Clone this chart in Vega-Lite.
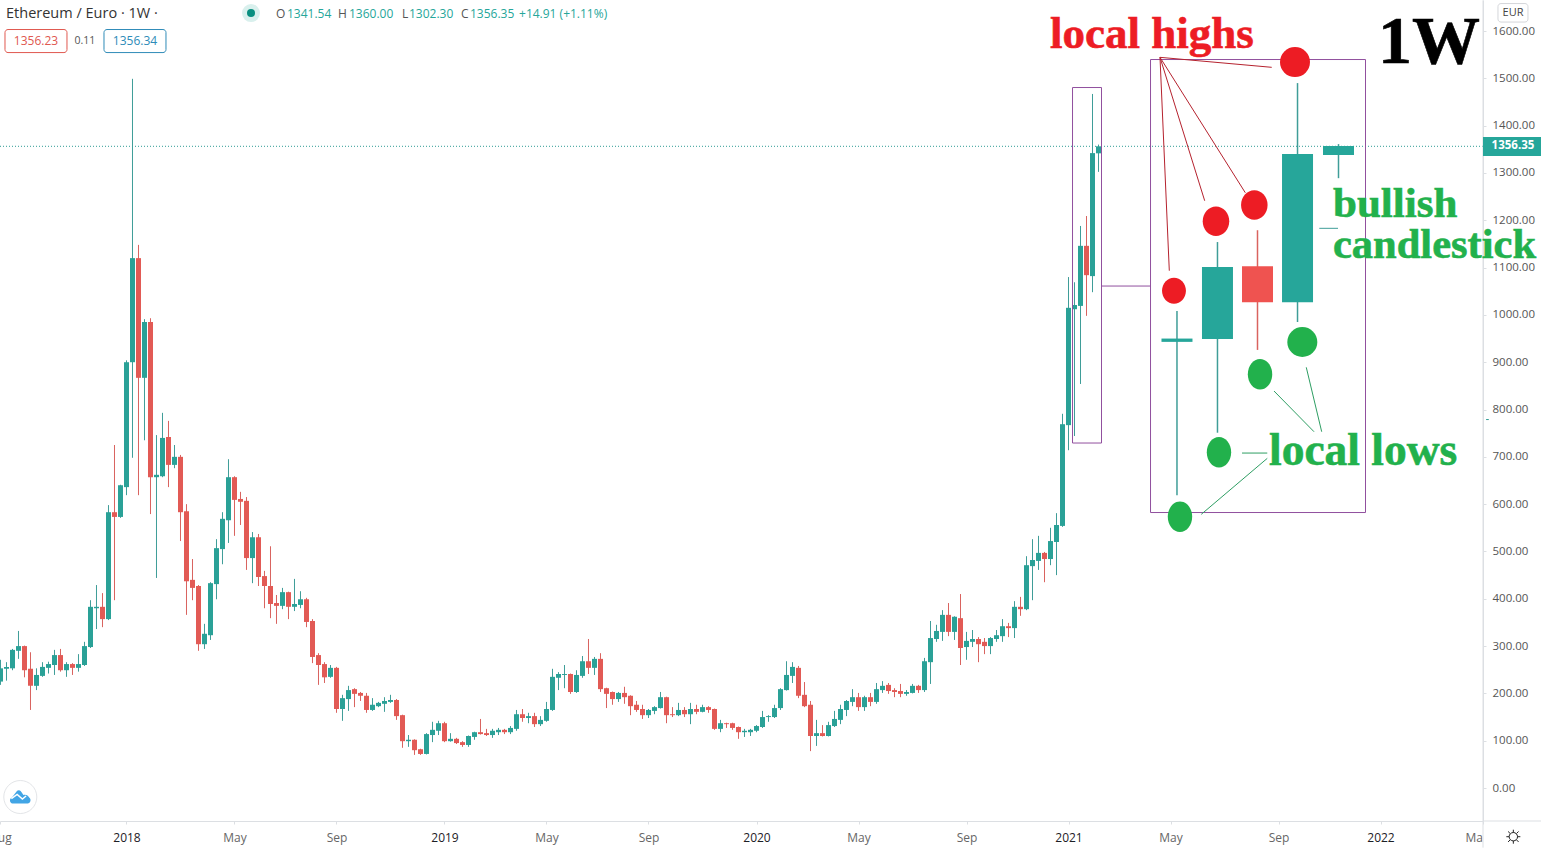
{"$schema":"https://vega.github.io/schema/vega-lite/v6.json","width":1483,"height":821,"autosize":{"type":"none"},"padding":{"left":0,"top":0,"right":58,"bottom":27},"background":"white","config":{"view":{"stroke":null},"font":"Open Sans"},
"datasets":{"candles":[
{"week":0,"o":225,"h":271,"l":218,"c":253},{"week":1,"o":252,"h":266,"l":227,"c":256},{"week":2,"o":253,"h":294,"l":249,"c":292},{"week":3,"o":290,"h":332,"l":273,"c":300},{"week":4,"o":300,"h":301,"l":234,"c":249},{"week":5,"o":252,"h":287,"l":165,"c":216},{"week":6,"o":216,"h":253,"l":207,"c":239},{"week":7,"o":237,"h":266,"l":235,"c":256},{"week":8,"o":254,"h":267,"l":242,"c":262},{"week":9,"o":260,"h":292,"l":239,"c":281},
{"week":10,"o":281,"h":294,"l":246,"c":249},{"week":11,"o":249,"h":266,"l":235,"c":262},{"week":12,"o":262,"h":264,"l":239,"c":254},{"week":13,"o":254,"h":283,"l":246,"c":262},{"week":14,"o":260,"h":309,"l":258,"c":300},{"week":15,"o":298,"h":397,"l":296,"c":383},{"week":16,"o":380,"h":429,"l":336,"c":383},{"week":17,"o":383,"h":412,"l":340,"c":357},{"week":18,"o":357,"h":598,"l":355,"c":583},{"week":19,"o":583,"h":725,"l":397,"c":573},
{"week":20,"o":573,"h":641,"l":571,"c":640},{"week":21,"o":636,"h":904,"l":619,"c":900},{"week":22,"o":900,"h":1499,"l":698,"c":1120},{"week":23,"o":1120,"h":1148,"l":619,"c":867},{"week":24,"o":867,"h":991,"l":735,"c":985},{"week":25,"o":985,"h":993,"l":579,"c":657},{"week":26,"o":657,"h":746,"l":444,"c":662},{"week":27,"o":659,"h":793,"l":657,"c":740},{"week":28,"o":742,"h":776,"l":636,"c":683},{"week":29,"o":683,"h":725,"l":676,"c":700},
{"week":30,"o":700,"h":704,"l":522,"c":583},{"week":31,"o":585,"h":600,"l":366,"c":437},{"week":32,"o":440,"h":484,"l":397,"c":423},{"week":33,"o":427,"h":429,"l":290,"c":304},{"week":34,"o":304,"h":347,"l":294,"c":326},{"week":35,"o":323,"h":435,"l":313,"c":433},{"week":36,"o":431,"h":526,"l":399,"c":507},{"week":37,"o":505,"h":583,"l":473,"c":569},{"week":38,"o":566,"h":695,"l":518,"c":657},{"week":39,"o":657,"h":659,"l":533,"c":609},
{"week":40,"o":611,"h":626,"l":556,"c":605},{"week":41,"o":607,"h":615,"l":461,"c":486},{"week":42,"o":486,"h":541,"l":433,"c":530},{"week":43,"o":530,"h":537,"l":427,"c":446},{"week":44,"o":448,"h":459,"l":380,"c":427},{"week":45,"o":427,"h":511,"l":359,"c":389},{"week":46,"o":391,"h":408,"l":347,"c":385},{"week":47,"o":385,"h":423,"l":378,"c":414},{"week":48,"o":414,"h":415,"l":357,"c":383},{"week":49,"o":383,"h":442,"l":374,"c":389},
{"week":50,"o":387,"h":416,"l":380,"c":399},{"week":51,"o":399,"h":402,"l":340,"c":351},{"week":52,"o":353,"h":357,"l":264,"c":277},{"week":53,"o":281,"h":285,"l":218,"c":260},{"week":54,"o":262,"h":266,"l":222,"c":234},{"week":55,"o":235,"h":260,"l":233,"c":254},{"week":56,"o":254,"h":256,"l":159,"c":167},{"week":57,"o":167,"h":197,"l":142,"c":190},{"week":58,"o":188,"h":216,"l":163,"c":207},{"week":59,"o":209,"h":211,"l":171,"c":199},
{"week":60,"o":201,"h":203,"l":184,"c":195},{"week":61,"o":195,"h":201,"l":159,"c":165},{"week":62,"o":165,"h":190,"l":163,"c":176},{"week":63,"o":173,"h":182,"l":171,"c":180},{"week":64,"o":178,"h":192,"l":161,"c":184},{"week":65,"o":182,"h":197,"l":180,"c":186},{"week":66,"o":186,"h":188,"l":144,"c":152},{"week":67,"o":154,"h":155,"l":85,"c":99},{"week":68,"o":99,"h":112,"l":87,"c":102},{"week":69,"o":102,"h":103,"l":70,"c":80},
{"week":70,"o":82,"h":83,"l":70,"c":72},{"week":71,"o":72,"h":116,"l":71,"c":114},{"week":72,"o":112,"h":140,"l":97,"c":123},{"week":73,"o":121,"h":142,"l":112,"c":137},{"week":74,"o":137,"h":140,"l":97,"c":99},{"week":75,"o":99,"h":116,"l":98,"c":104},{"week":76,"o":104,"h":106,"l":93,"c":95},{"week":77,"o":97,"h":99,"l":87,"c":91},{"week":78,"o":91,"h":111,"l":87,"c":110},{"week":79,"o":108,"h":119,"l":102,"c":118},
{"week":80,"o":118,"h":146,"l":113,"c":114},{"week":81,"o":116,"h":125,"l":110,"c":112},{"week":82,"o":112,"h":125,"l":106,"c":121},{"week":83,"o":118,"h":127,"l":112,"c":123},{"week":84,"o":123,"h":125,"l":114,"c":118},{"week":85,"o":118,"h":131,"l":114,"c":127},{"week":86,"o":125,"h":165,"l":121,"c":156},{"week":87,"o":156,"h":167,"l":140,"c":148},{"week":88,"o":148,"h":159,"l":137,"c":152},{"week":89,"o":152,"h":159,"l":129,"c":135},
{"week":90,"o":135,"h":152,"l":131,"c":144},{"week":91,"o":142,"h":182,"l":140,"c":167},{"week":92,"o":165,"h":252,"l":163,"c":235},{"week":93,"o":233,"h":245,"l":207,"c":241},{"week":94,"o":239,"h":260,"l":211,"c":241},{"week":95,"o":241,"h":242,"l":199,"c":203},{"week":96,"o":203,"h":249,"l":201,"c":239},{"week":97,"o":237,"h":279,"l":233,"c":268},{"week":98,"o":268,"h":315,"l":241,"c":254},{"week":99,"o":254,"h":277,"l":239,"c":273},
{"week":100,"o":273,"h":285,"l":203,"c":209},{"week":101,"o":211,"h":212,"l":169,"c":199},{"week":102,"o":203,"h":204,"l":176,"c":188},{"week":103,"o":188,"h":203,"l":182,"c":201},{"week":104,"o":201,"h":214,"l":178,"c":192},{"week":105,"o":195,"h":196,"l":154,"c":173},{"week":106,"o":176,"h":184,"l":161,"c":165},{"week":107,"o":167,"h":176,"l":146,"c":154},{"week":108,"o":154,"h":167,"l":148,"c":165},{"week":109,"o":163,"h":173,"l":156,"c":171},
{"week":110,"o":169,"h":203,"l":168,"c":192},{"week":111,"o":192,"h":193,"l":137,"c":154},{"week":112,"o":156,"h":171,"l":150,"c":154},{"week":113,"o":154,"h":180,"l":152,"c":165},{"week":114,"o":165,"h":171,"l":150,"c":156},{"week":115,"o":156,"h":180,"l":135,"c":167},{"week":116,"o":167,"h":176,"l":156,"c":161},{"week":117,"o":161,"h":176,"l":160,"c":171},{"week":118,"o":171,"h":173,"l":159,"c":165},{"week":119,"o":167,"h":168,"l":123,"c":125},
{"week":120,"o":125,"h":144,"l":118,"c":137},{"week":121,"o":137,"h":138,"l":127,"c":135},{"week":122,"o":137,"h":138,"l":123,"c":127},{"week":123,"o":129,"h":130,"l":104,"c":118},{"week":124,"o":118,"h":125,"l":108,"c":121},{"week":125,"o":118,"h":125,"l":110,"c":123},{"week":126,"o":121,"h":133,"l":118,"c":131},{"week":127,"o":129,"h":163,"l":127,"c":150},{"week":128,"o":150,"h":154,"l":140,"c":152},{"week":129,"o":150,"h":176,"l":148,"c":169},
{"week":130,"o":169,"h":211,"l":165,"c":209},{"week":131,"o":207,"h":268,"l":206,"c":239},{"week":132,"o":237,"h":266,"l":222,"c":256},{"week":133,"o":254,"h":258,"l":190,"c":195},{"week":134,"o":197,"h":224,"l":171,"c":173},{"week":135,"o":176,"h":184,"l":78,"c":110},{"week":136,"o":110,"h":144,"l":89,"c":116},{"week":137,"o":116,"h":133,"l":109,"c":110},{"week":138,"o":110,"h":140,"l":109,"c":133},{"week":139,"o":131,"h":163,"l":129,"c":146},
{"week":140,"o":144,"h":176,"l":135,"c":167},{"week":141,"o":165,"h":186,"l":152,"c":184},{"week":142,"o":182,"h":209,"l":173,"c":192},{"week":143,"o":192,"h":201,"l":163,"c":171},{"week":144,"o":171,"h":195,"l":163,"c":192},{"week":145,"o":192,"h":201,"l":173,"c":182},{"week":146,"o":182,"h":222,"l":178,"c":209},{"week":147,"o":207,"h":226,"l":201,"c":216},{"week":148,"o":218,"h":222,"l":199,"c":205},{"week":149,"o":207,"h":211,"l":192,"c":203},
{"week":150,"o":205,"h":220,"l":192,"c":199},{"week":151,"o":199,"h":207,"l":195,"c":203},{"week":152,"o":201,"h":220,"l":200,"c":216},{"week":153,"o":216,"h":218,"l":201,"c":207},{"week":154,"o":207,"h":275,"l":203,"c":268},{"week":155,"o":266,"h":353,"l":220,"c":317},{"week":156,"o":315,"h":345,"l":309,"c":332},{"week":157,"o":330,"h":376,"l":311,"c":366},{"week":158,"o":366,"h":391,"l":321,"c":330},{"week":159,"o":330,"h":363,"l":313,"c":362},
{"week":160,"o":359,"h":410,"l":260,"c":296},{"week":161,"o":298,"h":330,"l":271,"c":311},{"week":162,"o":309,"h":334,"l":298,"c":315},{"week":163,"o":315,"h":319,"l":266,"c":304},{"week":164,"o":309,"h":317,"l":283,"c":300},{"week":165,"o":300,"h":319,"l":283,"c":317},{"week":166,"o":315,"h":334,"l":309,"c":323},{"week":167,"o":321,"h":357,"l":309,"c":342},{"week":168,"o":342,"h":349,"l":319,"c":338},{"week":169,"o":338,"h":395,"l":317,"c":383},
{"week":170,"o":383,"h":404,"l":364,"c":378},{"week":171,"o":378,"h":490,"l":376,"c":471},{"week":172,"o":469,"h":526,"l":397,"c":482},{"week":173,"o":480,"h":533,"l":461,"c":497},{"week":174,"o":497,"h":499,"l":435,"c":484},{"week":175,"o":484,"h":550,"l":471,"c":522},{"week":176,"o":520,"h":581,"l":450,"c":556},{"week":177,"o":554,"h":791,"l":552,"c":769},{"week":178,"o":767,"h":1080,"l":714,"c":1015},{"week":179,"o":1012,"h":1069,"l":744,"c":1021},
{"week":180,"o":1019,"h":1188,"l":854,"c":1146},{"week":181,"o":1146,"h":1209,"l":998,"c":1084},{"week":182,"o":1082,"h":1467,"l":1048,"c":1342},{"week":183,"o":1341.54,"h":1360,"l":1302.3,"c":1356.35}],
"inset":[{"week":196.08,"o":943,"h":1008,"l":619,"c":950},{"week":202.83,"o":949,"h":1154,"l":751,"c":1101},{"week":209.5,"o":1103,"h":1179,"l":926,"c":1027},{"week":216.17,"o":1027,"h":1490,"l":985,"c":1340},{"week":223,"o":1338,"h":1361,"l":1289,"c":1357}]},
"encoding":{"x":{"field":"week","type":"quantitative","title":null,"scale":{"domain":[-0.0833,247.0833],"nice":false,"zero":false,"padding":0},"axis":{"values":[0,21,39,56,74,91,108,126,143,161,178,195,213,230,247],"labelExpr":"['Aug','2018','May','Sep','2019','May','Sep','2020','May','Sep','2021','May','Sep','2022','Ma'][indexof([0,21,39,56,74,91,108,126,143,161,178,195,213,230,247],datum.value)]","labelOverlap":false,"labelFlush":false,"labelBound":false,"grid":false,"domainColor":"#dcdfe3","tickColor":"#dcdfe3","tickSize":3,"labelPadding":8,"labelFontSize":12,"labelFont":"Open Sans","labelColor":{"condition":{"test":"indexof([21,74,126,178,230],datum.value)>=0","value":"#1d2026"},"value":"#666666"},"labelFontWeight":{"condition":{"test":"indexof([21,74,126,178,230],datum.value)>=0","value":500},"value":400},"labelAlign":{"condition":{"test":"datum.value==247","value":"right"},"value":"center"}}},
"y":{"field":"price","type":"quantitative","title":null,"scale":{"domain":[-69.7,1665.6],"nice":false,"zero":false,"padding":0},"axis":{"orient":"right","values":[0,100,200,300,400,500,600,700,800,900,1000,1100,1200,1300,1400,1500,1600],"format":".2f","grid":false,"domainColor":"#dcdfe3","tickColor":"#dcdfe3","tickSize":3,"labelPadding":6,"labelFontSize":11.5,"labelFont":"Open Sans","labelColor":"#555555"}}},
"layer":[
{"data":{"values":[{"week":-0.0833,"week2":247.0833,"price":1356.35}]},"mark":{"type":"rule","stroke":"#2f9c94","strokeWidth":1,"strokeDash":[1,2]},"encoding":{"x2":{"field":"week2"}}},
{"data":{"values":[{"week":247.0833,"price":1665,"price2":-126}]},"mark":{"type":"rule","stroke":"#dcdfe3","strokeWidth":1},"encoding":{"y2":{"field":"price2"}}},
{"data":{"values":[{"week":247.0833,"week2":257,"price":-69.7}]},"mark":{"type":"rule","stroke":"#dcdfe3","strokeWidth":1},"encoding":{"x2":{"field":"week2"}}},
{"data":{"values":[{"week":247.6,"week2":248.05,"price":778.8}]},"mark":{"type":"rule","stroke":"#2f9c94","strokeWidth":1},"encoding":{"x2":{"field":"week2"}}},
{"data":{"name":"candles"},"mark":{"type":"rule","strokeWidth":1},"encoding":{"y":{"field":"l","type":"quantitative","title":null,"axis":{"orient":"right","values":[0,100,200,300,400,500,600,700,800,900,1000,1100,1200,1300,1400,1500,1600],"format":".2f","grid":false,"domainColor":"#dcdfe3","tickColor":"#dcdfe3","tickSize":3,"labelPadding":6,"labelFontSize":11.5,"labelFont":"Open Sans","labelColor":"#555555"}},"y2":{"field":"h"},"color":{"condition":{"test":"datum.c>=datum.o","value":"#3f9d98"},"value":"#d9635f"}}},
{"data":{"name":"candles"},"mark":{"type":"bar","size":5,"orient":"vertical"},"encoding":{"y":{"field":"o","type":"quantitative","title":null,"axis":{"orient":"right","values":[0,100,200,300,400,500,600,700,800,900,1000,1100,1200,1300,1400,1500,1600],"format":".2f","grid":false,"domainColor":"#dcdfe3","tickColor":"#dcdfe3","tickSize":3,"labelPadding":6,"labelFontSize":11.5,"labelFont":"Open Sans","labelColor":"#555555"}},"y2":{"field":"c"},"color":{"condition":{"test":"datum.c>=datum.o","value":"#2aa197"},"value":"#e25a55"}}},
{"data":{"values":[{"week":191.67,"week2":227.5,"price":1539.8,"price2":582.3},{"week":178.67,"week2":183.5,"price":1480.6,"price2":729.2}]},"mark":{"type":"rect","fillOpacity":0,"stroke":"#91509e","strokeWidth":1},"encoding":{"x2":{"field":"week2"},"y2":{"field":"price2"}}},
{"data":{"values":[{"week":183.5,"week2":191.67,"price":1061}]},"mark":{"type":"rule","stroke":"#91509e","strokeWidth":1},"encoding":{"x2":{"field":"week2"}}},
{"data":{"name":"inset"},"mark":{"type":"rule","strokeWidth":1.5},"encoding":{"y":{"field":"l","type":"quantitative","title":null,"axis":{"orient":"right","values":[0,100,200,300,400,500,600,700,800,900,1000,1100,1200,1300,1400,1500,1600],"format":".2f","grid":false,"domainColor":"#dcdfe3","tickColor":"#dcdfe3","tickSize":3,"labelPadding":6,"labelFontSize":11.5,"labelFont":"Open Sans","labelColor":"#555555"}},"y2":{"field":"h"},"color":{"condition":{"test":"datum.c>=datum.o","value":"#3f9d98"},"value":"#d9635f"}}},
{"data":{"name":"inset"},"mark":{"type":"bar","size":31,"orient":"vertical"},"encoding":{"y":{"field":"o","type":"quantitative","title":null,"axis":{"orient":"right","values":[0,100,200,300,400,500,600,700,800,900,1000,1100,1200,1300,1400,1500,1600],"format":".2f","grid":false,"domainColor":"#dcdfe3","tickColor":"#dcdfe3","tickSize":3,"labelPadding":6,"labelFontSize":11.5,"labelFont":"Open Sans","labelColor":"#555555"}},"y2":{"field":"c"},"color":{"condition":{"test":"datum.c>=datum.o","value":"#26a69a"},"value":"#ef5350"}}},
{"data":{"values":[{"week":193.25,"week2":194.8,"price":1544.4,"price2":1093.4},{"week":193.25,"week2":200.7,"price":1544.4,"price2":1241.3},{"week":193.25,"week2":207.47,"price":1544.4,"price2":1258.2},{"week":193.25,"week2":211.87,"price":1544.4,"price2":1523.3}]},"mark":{"type":"rule","stroke":"#b5222e","strokeWidth":1},"encoding":{"x2":{"field":"week2"},"y2":{"field":"price2"}}},
{"data":{"values":[{"week":212.25,"week2":218.92,"price":839.1,"price2":753.1},{"week":217.63,"week2":220.2,"price":889.2,"price2":753.1},{"week":206.92,"week2":211.13,"price":708,"price2":708},{"week":211.13,"week2":200.13,"price":696.8,"price2":578.5}]},"mark":{"type":"rule","stroke":"#2e9e63","strokeWidth":1},"encoding":{"x2":{"field":"week2"},"y2":{"field":"price2"}}},
{"data":{"values":[{"week":219.8,"week2":222.92,"price":1183}]},"mark":{"type":"rule","stroke":"#3f9d98","strokeWidth":1},"encoding":{"x2":{"field":"week2"}}},
{"data":{"values":[{"week":195.58,"price":1051}]},"mark":{"type":"point","filled":true,"opacity":1,"fill":"#ed1c24","stroke":null,"size":676,"shape":"M-0.92,0A0.92,1,0,1,1,0.92,0A0.92,1,0,1,1,-0.92,0Z"}},
{"data":{"values":[{"week":202.58,"price":1197.8},{"week":208.97,"price":1232.2}]},"mark":{"type":"point","filled":true,"opacity":1,"fill":"#ed1c24","stroke":null,"size":870,"shape":"M-0.9,0A0.9,1,0,1,1,0.9,0A0.9,1,0,1,1,-0.9,0Z"}},
{"data":{"values":[{"week":215.75,"price":1534.5}]},"mark":{"type":"point","filled":true,"opacity":1,"fill":"#ed1c24","stroke":null,"size":900,"shape":"circle"}},
{"data":{"values":[{"week":196.58,"price":573.4},{"week":203.08,"price":709.5},{"week":209.92,"price":874.4}]},"mark":{"type":"point","filled":true,"opacity":1,"fill":"#22b14c","stroke":null,"size":930,"shape":"M-0.8,0A0.8,1,0,1,1,0.8,0A0.8,1,0,1,1,-0.8,0Z"}},
{"data":{"values":[{"week":216.97,"price":942.7}]},"mark":{"type":"point","filled":true,"opacity":1,"fill":"#22b14c","stroke":null,"size":900,"shape":"circle"}},
{"data":{"values":[{"week":174.92,"price":1564,"label":"local highs"}]},"mark":{"type":"text","align":"left","baseline":"alphabetic","font":"Liberation Serif","fontWeight":"bold","fontSize":45,"fill":"#ed1c24","stroke":"#ed1c24","strokeWidth":0.6},"encoding":{"text":{"field":"label"}}},
{"data":{"values":[{"week":229.58,"price":1532.4,"label":"1W"}]},"mark":{"type":"text","align":"left","baseline":"alphabetic","font":"Liberation Serif","fontWeight":"bold","fontSize":68,"fill":"#000000","stroke":"#000000","strokeWidth":0.6},"encoding":{"text":{"field":"label"}}},
{"data":{"values":[{"week":222.08,"price":1206.9,"label":"bullish"}]},"mark":{"type":"text","align":"left","baseline":"alphabetic","font":"Liberation Serif","fontWeight":"bold","fontSize":43,"fill":"#22b14c","stroke":"#22b14c","strokeWidth":0.6},"encoding":{"text":{"field":"label"}}},
{"data":{"values":[{"week":222.08,"price":1120.2,"label":"candlestick"}]},"mark":{"type":"text","align":"left","baseline":"alphabetic","font":"Liberation Serif","fontWeight":"bold","fontSize":42.5,"fill":"#22b14c","stroke":"#22b14c","strokeWidth":0.6},"encoding":{"text":{"field":"label"}}},
{"data":{"values":[{"week":211.42,"price":682.7,"label":"local lows"}]},"mark":{"type":"text","align":"left","baseline":"alphabetic","font":"Liberation Serif","fontWeight":"bold","fontSize":45.5,"fill":"#22b14c","stroke":"#22b14c","strokeWidth":0.6},"encoding":{"text":{"field":"label"}}},
{"data":{"values":[{"week":0.92,"price":1636,"label":"Ethereum / Euro · 1W ·"}]},"mark":{"type":"text","align":"left","baseline":"middle","font":"Open Sans","fontSize":14.5,"fill":"#333333"},"encoding":{"text":{"field":"label"}}},
{"data":{"values":[{"week":45.92,"price":1636,"label":"O"},{"week":56.25,"price":1636,"label":"H"},{"week":66.92,"price":1636,"label":"L"},{"week":76.75,"price":1636,"label":"C"}]},"mark":{"type":"text","align":"left","baseline":"middle","font":"Open Sans","fontSize":12,"fill":"#555555"},"encoding":{"text":{"field":"label"}}},
{"data":{"values":[{"week":47.75,"price":1636,"label":"1341.54"},{"week":58.08,"price":1636,"label":"1360.00"},{"week":68.08,"price":1636,"label":"1302.30"},{"week":78.25,"price":1636,"label":"1356.35"},{"week":86.42,"price":1636,"label":"+14.91 (+1.11%)"}]},"mark":{"type":"text","align":"left","baseline":"middle","font":"Open Sans","fontSize":12,"fill":"#26a69a"},"encoding":{"text":{"field":"label"}}},
{"data":{"values":[{"week":41.75,"price":1638}]},"mark":{"type":"point","filled":true,"opacity":1,"fill":"#d9f0ed","stroke":null,"size":320,"shape":"circle"}},
{"data":{"values":[{"week":41.75,"price":1638}]},"mark":{"type":"point","filled":true,"opacity":1,"fill":"#0a8f80","stroke":null,"size":64,"shape":"circle"}},
{"data":{"values":[{"week":0.75,"week2":11.08,"price":1603.2,"price2":1554.5}]},"mark":{"type":"rect","fill":"white","stroke":"#e0584f","strokeWidth":1,"cornerRadius":3},"encoding":{"x2":{"field":"week2"},"y2":{"field":"price2"}}},
{"data":{"values":[{"week":17.25,"week2":27.58,"price":1603.2,"price2":1554.5}]},"mark":{"type":"rect","fill":"white","stroke":"#2e8bb8","strokeWidth":1,"cornerRadius":3},"encoding":{"x2":{"field":"week2"},"y2":{"field":"price2"}}},
{"data":{"values":[{"week":5.92,"price":1578.9,"label":"1356.23"}]},"mark":{"type":"text","baseline":"middle","font":"Open Sans","fontSize":12,"fill":"#e0584f"},"encoding":{"text":{"field":"label"}}},
{"data":{"values":[{"week":22.42,"price":1578.9,"label":"1356.34"}]},"mark":{"type":"text","baseline":"middle","font":"Open Sans","fontSize":12,"fill":"#2e8bb8"},"encoding":{"text":{"field":"label"}}},
{"data":{"values":[{"week":14.08,"price":1578.9,"label":"0.11"}]},"mark":{"type":"text","baseline":"middle","font":"Open Sans","fontSize":10.5,"fill":"#555555"},"encoding":{"text":{"field":"label"}}},
{"data":{"values":[{"week":249.58,"week2":254.58,"price":1658.1,"price2":1619}]},"mark":{"type":"rect","fill":"white","stroke":"#d4d6da","strokeWidth":1,"cornerRadius":3},"encoding":{"x2":{"field":"week2"},"y2":{"field":"price2"}}},
{"data":{"values":[{"week":252.08,"price":1638,"label":"EUR"}]},"mark":{"type":"text","baseline":"middle","font":"Open Sans","fontSize":11,"fill":"#444444"},"encoding":{"text":{"field":"label"}}},
{"data":{"values":[{"week":247.08,"week2":256.75,"price":1375.9,"price2":1335.8}]},"mark":{"type":"rect","fill":"#26a69a"},"encoding":{"x2":{"field":"week2"},"y2":{"field":"price2"}}},
{"data":{"values":[{"week":252.08,"price":1356.35,"label":"1356.35"}]},"mark":{"type":"text","baseline":"middle","font":"Open Sans","fontSize":11.5,"fontWeight":"bold","fill":"#ffffff"},"encoding":{"text":{"field":"label"}}},
{"data":{"values":[{"week":3.3,"price":-19}]},"mark":{"type":"point","filled":true,"opacity":1,"fill":"#ffffff","stroke":"#e3e5e8","strokeWidth":1,"size":1090,"shape":"circle"}},
{"data":{"values":[{"week":3.3,"price":-19}]},"mark":{"type":"point","filled":true,"opacity":1,"fill":"#42a5e5","stroke":null,"size":441,"shape":"M-0.75,0.62A0.3,0.3,0,0,1,-0.8,0.05L-0.3,-0.6A0.25,0.25,0,0,1,0.05,-0.55L0.3,-0.2A0.45,0.45,0,0,1,0.85,0.05A0.32,0.32,0,0,1,0.7,0.62Z"}},
{"data":{"values":[{"week":3.3,"price":-19}]},"mark":{"type":"point","filled":false,"opacity":1,"stroke":"#ffffff","strokeWidth":1.5,"size":441,"shape":"M-0.85,0.15L-0.3,-0.25L0.2,0.2L0.55,-0.1"}},
{"data":{"values":[{"week":252.14,"price":-102.9}]},"mark":{"type":"point","filled":false,"opacity":1,"stroke":"#222222","strokeWidth":1,"size":196,"shape":"M-0.6,0A0.6,0.6,0,1,1,0.6,0A0.6,0.6,0,1,1,-0.6,0ZM0,-1L0,-0.6M0,1L0,0.6M-1,0L-0.6,0M1,0L0.6,0M-0.75,-0.75L-0.45,-0.45M0.75,-0.75L0.45,-0.45M-0.75,0.75L-0.45,0.45M0.75,0.75L0.45,0.45"}}
]}
